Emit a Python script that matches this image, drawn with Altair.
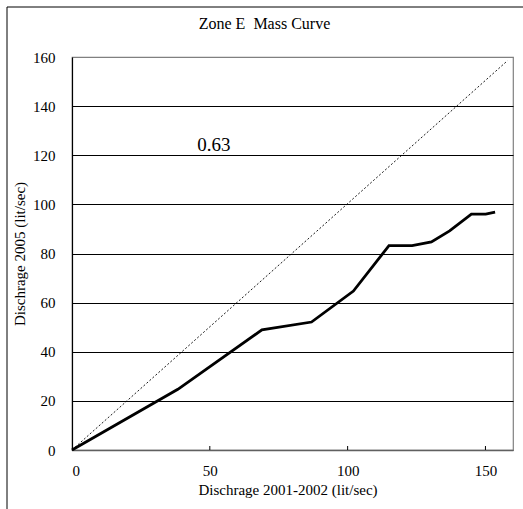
import altair as alt
import pandas as pd

# Mass curve data
q_2001 = [0, 38.4, 68.9, 86.9, 102.1, 115.0, 123.4, 130.4, 137.0, 144.9, 150.1, 153.5]
q_2005 = [0, 24.7, 48.9, 52.1, 64.7, 83.2, 83.2, 84.7, 89.2, 96.0, 96.0, 96.8]

# 1:1 reference line
ref_x = [0, 158]
ref_y = [0, 158.5]

# Annotation
note_text = ["0.63"]
note_x = [51.5]
note_y = [124]

x_ticks = [0, 50, 100, 150]
y_ticks = [0, 20, 40, 60, 80, 100, 120, 140, 160]

FONT = "Liberation Serif"
W, H = 441, 393

curve = pd.DataFrame({"x": q_2001, "y": q_2005, "i": range(len(q_2001))})
ref = pd.DataFrame({"x": ref_x, "y": ref_y, "i": range(len(ref_x))})
note = pd.DataFrame({"x": note_x, "y": note_y, "t": note_text})
ticks = pd.DataFrame({"x": x_ticks[1:]})

xscale = alt.Scale(domain=[0, 160], nice=False)
yscale = alt.Scale(domain=[0, 160], nice=False)

xaxis = alt.Axis(
    values=x_ticks, title="Dischrage 2001-2002 (lit/sec)", grid=False, ticks=False,
    labelPadding=13, titlePadding=4, domainColor="#606060", domainWidth=1.5,
    titleX=W / 2 - 5,
)
yaxis = alt.Axis(
    values=y_ticks, title="Dischrage 2005 (lit/sec)", ticks=False,
    labelPadding=17, titlePadding=5, domainColor="black", domainWidth=1.2,
    gridColor=alt.condition("datum.value == 160 || datum.value == 0",
                            alt.value("#808080"), alt.value("black")),
    gridWidth=1,
)

base_line = alt.Chart(curve).mark_line(color="black", strokeWidth=2.8).encode(
    x=alt.X("x:Q", scale=xscale, axis=xaxis),
    y=alt.Y("y:Q", scale=yscale, axis=yaxis),
    order="i:Q",
)

ref_line = alt.Chart(ref).mark_line(color="black", strokeWidth=0.9, strokeDash=[2, 2]).encode(
    x=alt.X("x:Q", scale=xscale),
    y=alt.Y("y:Q", scale=yscale),
    order="i:Q",
)

tick_marks = alt.Chart(ticks).mark_rule(color="black", strokeWidth=1).encode(
    x=alt.X("x:Q", scale=xscale),
    y=alt.value(H),
    y2=alt.value(H - 4),
)

note_mark = alt.Chart(note).mark_text(font=FONT, fontSize=19, color="black").encode(
    x=alt.X("x:Q", scale=xscale),
    y=alt.Y("y:Q", scale=yscale),
    text="t:N",
)

frame = alt.Chart(pd.DataFrame({"a": [0]})).mark_rect(
    fill=None, stroke="black", strokeWidth=1
).encode(
    x=alt.value(-65), x2=alt.value(520), y=alt.value(-50), y2=alt.value(500)
)

chart = alt.layer(frame, ref_line, base_line, tick_marks, note_mark).properties(
    width=W, height=H,
    title=alt.TitleParams("Zone E\u00a0 Mass Curve", font=FONT, fontSize=16, fontWeight="normal",
                          anchor="middle", frame="group", dx=-28, offset=0, dy=25,
                          color="black"),
    padding={"left": 72, "top": 57, "right": 10, "bottom": 59},
    autosize=alt.AutoSizeParams(type="none"),
).configure(
    background="white"
).configure_view(
    stroke="#808080", strokeWidth=1.2
).configure_axis(
    labelFont=FONT, titleFont=FONT, labelFontSize=15, titleFontSize=15,
    titleFontWeight="normal", labelColor="black", titleColor="black",
)

chart.save("out.html", embed_options={"renderer": "svg", "actions": False})
